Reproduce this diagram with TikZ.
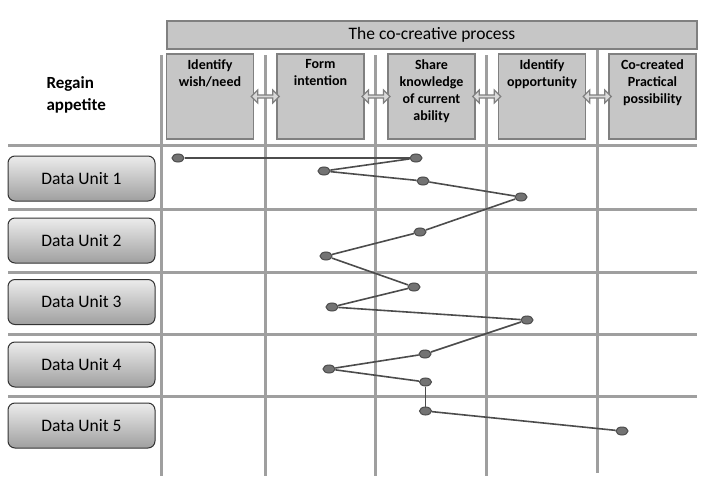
\documentclass[tikz,border=0pt]{standalone}
\usepackage{fontspec}
\setmainfont{Carlito}
\usetikzlibrary{shapes,calc}

\begin{document}
\begin{tikzpicture}[x=1pt,y=-1pt,
	gridline/.style={draw=gray!75,line width=3pt},
	stage/.style={draw=gray,fill=gray!45,line width=1.5pt,minimum width=87pt,minimum height=85pt,inner sep=0pt},
	stagetext/.style={font=\bfseries\fontsize{14}{17}\selectfont,align=center,anchor=north,yshift=-3pt},
	twoway/.style={double arrow,draw=gray,fill=gray!30,line width=1.2pt,minimum width=13pt,minimum height=28pt,double arrow head extend=2pt,inner sep=0pt},
	unit/.style={draw=black!80,line width=1pt,rounded corners=7pt,top color=gray!15,bottom color=gray!75,minimum width=147pt,minimum height=45pt,font=\fontsize{17.5}{20}\selectfont},
	dot/.style={ellipse,draw=black!70,fill=black!55,line width=1pt,minimum width=12pt,minimum height=8pt,inner sep=0pt},
	link/.style={draw=black!70,line width=1.6pt}]
\useasboundingbox (0,0) rectangle (702,490);

% grid
\foreach \y in {145,209,272,334,396}
	\draw[gridline] (8,\y) -- (697,\y);
\foreach \x in {161,265,375,486}
	\draw[gridline] (\x,55) -- (\x,476);
\draw[gridline] (597,49) -- (597,473);

% process header
\node[stage,minimum width=530pt,minimum height=28pt,font=\fontsize{17.5}{20}\selectfont] (title) at (432,35) {The co-creative process};
\foreach \x/\t [count=\n] in {210/{Identify\\wish/need},320.5/{Form\\intention},431.5/{Share\\knowledge\\of current\\ability},542/{Identify\\opportunity},652.5/{Co-created\\Practical\\possibility}}
	{\node[stage] (s\n) at (\x,96.5) {};
	\node[stagetext] (t\n) at (s\n.north) {\t};}
\foreach \a [count=\b from 2] in {1,...,4}
	\node[twoway] (a\a) at ($(s\a.east)!0.5!(s\b.west)$) {};

\node[font=\bfseries\fontsize{17}{22}\selectfont,align=left,anchor=west] (topic) at (43,95) {Regain\\appetite};

% data units
\foreach \y [count=\n] in {178.5,240.5,302,364.5,425.5}
	\node[unit] (u\n) at (81.5,\y) {Data Unit \n};

% path through the stages
\foreach \x/\y [count=\n] in {178/158,416/158,324/171,423/181,521/197,420/232,326/256,414/287,332/307,527/320,425/354,329/369,425.5/382,425.5/411,622/431}
	\node[dot] (p\n) at (\x,\y) {};
\foreach \a [count=\b from 2] in {1,...,14}
	\draw[link] (p\a) -- (p\b);
\end{tikzpicture}
\end{document}
